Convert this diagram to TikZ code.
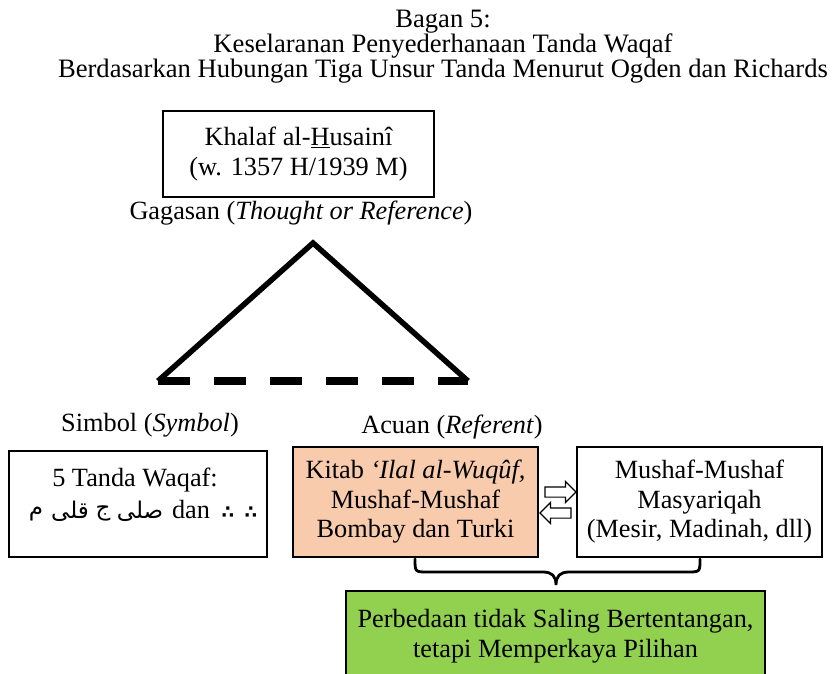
\documentclass[tikz,border=0pt]{standalone}
\usepackage{fontspec}
\setmainfont{Liberation Serif}
\newfontfamily\arabicfont[Script=Arabic]{DejaVu Sans}
\newfontfamily\symfont{DejaVu Sans}
\TeXXeTstate=1
\usetikzlibrary{shapes.arrows}
\definecolor{peach}{HTML}{F8CBAD}
\definecolor{leaf}{HTML}{92D050}
\begin{document}
\begin{tikzpicture}[x=1pt,y=-1pt,
  box/.style={draw=black, line width=1.6pt, align=center, inner sep=0pt,
    font=\fontsize{26.3}{29.5}\selectfont},
  lbl/.style={inner sep=0pt, font=\fontsize{26.3}{29.5}\selectfont},
  ttl/.style={inner sep=0pt, align=center, font=\fontsize{26.6}{25.2}\selectfont},
  arab/.style={inner sep=0pt, font=\arabicfont\fontsize{23}{24}\selectfont},
  dots/.style={inner sep=0pt, font=\symfont\bfseries\fontsize{18}{18}\selectfont},
  hollow/.style={single arrow, draw=black, fill=white, line width=1.2pt,
    inner sep=4.5pt, single arrow head extend=5.5pt, single arrow head indent=0pt,
    minimum height=31pt},
  tri/.style={line width=5.5pt, line join=miter},
  base/.style={line width=8pt, dash pattern=on 32pt off 24pt},
  brc/.style={line width=2.8pt, line cap=round}]
\useasboundingbox (0,0) rectangle (834,673);

% title
\node[ttl] (title) at (443,46.5) {Bagan 5:\\Keselaranan Penyederhanaan Tanda Waqaf\\Berdasarkan Hubungan Tiga Unsur Tanda Menurut Ogden dan Richards};

% thought
\node[box, minimum width=271pt, minimum height=86pt] (thought) at (298.5,154)
  {Khalaf al-\underline{H}usainî\\(w. 1357 H/1939 M)};
\node[lbl] (gag) at (301,213) {Gagasan (\textit{Thought or Reference})};

% triangle
\coordinate (apex) at (313,243);
\coordinate (sym) at (158,381);
\coordinate (ref) at (468,381);
\draw[tri] (sym) -- (apex) -- (ref);
\draw[base] (sym) -- (ref);

% symbol
\node[lbl] (simbol) at (150,425) {Simbol (\textit{Symbol})};
\node[box, minimum width=258pt, minimum height=106pt] (symbox) at (138,504) {};
\node[lbl] (waqaf) at (135,480) {5 Tanda Waqaf:};
\node[arab] (a1) at (36,514) {\beginR م\endR};
\node[arab] (a2) at (70,511) {\beginR قلى\endR};
\node[arab] (a3) at (103,513) {\beginR ج\endR};
\node[arab] (a4) at (140,511) {\beginR صلى\endR};
\node[lbl] (dan) at (191,509) {dan};
\node[dots] (d1) at (228,513) {∴};
\node[dots] (d2) at (251,513) {∴};

% referent
\node[lbl] (acuan) at (452,427) {Acuan (\textit{Referent})};
\node[box, fill=peach, minimum width=245pt, minimum height=110pt] (kitab) at (415.5,502)
  {Kitab \textit{‘Ilal al-Wuqûf,}\\Mushaf-Mushaf\\Bombay dan Turki};
\node[box, minimum width=245pt, minimum height=110pt] (mushaf) at (699.5,502)
  {Mushaf-Mushaf\\Masyariqah\\(Mesir, Madinah, dll)};
\node[hollow] (ar1) at (558,492) {};
\node[hollow, shape border rotate=180] (ar2) at (558,513) {};

% brace
\draw[brc] (415,559) .. controls (415,572) and (415,572) .. (428,572) -- (543,572)
  .. controls (552,572) and (556,576) .. (556,585)
  .. controls (556,576) and (560,572) .. (569,572) -- (687,572)
  .. controls (700,572) and (700,572) .. (700,559);

% result
\node[box, fill=leaf, minimum width=419pt, minimum height=95pt, anchor=north] (hasil) at (555.5,590) {};
\node[lbl, align=center] (hasiltext) at (555.5,636) {Perbedaan tidak Saling Bertentangan,\\tetapi Memperkaya Pilihan};
\end{tikzpicture}
\end{document}
